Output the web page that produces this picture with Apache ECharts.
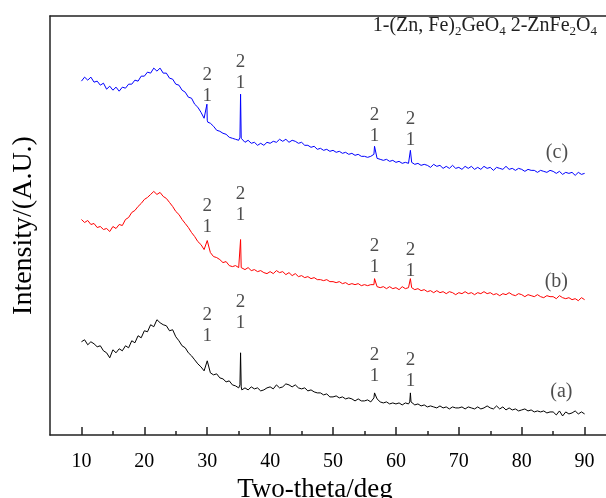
<!DOCTYPE html>
<html>
<head>
<meta charset="utf-8">
<script src="https://cdn.jsdelivr.net/npm/echarts@6/dist/echarts.min.js"></script>
<style>
  html, body { margin: 0; padding: 0; background: #fff; }
  #chart { width: 606px; height: 498px; }
</style>
</head>
<body>
<div id="chart"></div>
<script>
// scan starts at 10 deg, one reading every 0.5 deg up to 90 deg
const scanStart = 10;
const scanStep = 0.5;

// (a) black
const curveA = [
  93, 95, 90, 93, 91, 88, 89, 84, 82, 77,
  85, 82, 86, 84, 89, 87, 94, 92, 99, 97,
  104, 103, 110, 108, 115, 112, 110, 109, 104, 105,
  98, 94, 89, 87, 82, 79, 75, 71, 68, 64,
  74, 62, 60, 61, 57, 56, 53, 54, 50, 49,
  47, 45, 47, 45, 48, 46, 47, 44, 45, 47,
  48, 46, 50, 47, 48, 51, 50, 48, 50, 47,
  46, 47, 44, 45, 43, 42, 42, 40, 41, 38,
  38, 39, 37, 38, 36, 37, 36, 34, 36, 34,
  34, 35, 33, 37, 36, 33, 32, 33, 31, 32,
  31, 32, 30, 32, 31, 33, 30, 31, 29, 30,
  28, 29, 28, 27, 29, 27, 28, 26, 28, 27,
  27, 28, 26, 28, 27, 26, 28, 26, 27, 29,
  27, 26, 29, 26, 28, 25, 27, 25, 26, 24,
  25, 26, 24, 25, 23, 24, 23, 24, 22, 23,
  23, 20, 24, 19, 23, 21, 22, 24, 21, 23,
  21
];
// (b) red
const curveB = [
  215, 212, 214, 210, 211, 207, 208, 205, 206, 203,
  208, 206, 210, 209, 215, 217, 222, 224, 228, 231,
  235, 237, 240, 243, 240, 242, 238, 236, 232, 228,
  223, 220, 215, 211, 207, 202, 198, 193, 190, 185,
  194, 182, 178, 177, 175, 172, 173, 169, 168, 169,
  167, 166, 165, 167, 164, 165, 163, 164, 162, 161,
  163, 161, 164, 162, 163, 160, 162, 159, 161, 158,
  159, 157, 158, 156, 157, 155, 155, 154, 155, 153,
  153, 152, 153, 151, 152, 150, 151, 150, 151, 149,
  150, 149, 150, 150, 148, 147, 148, 146, 148, 146,
  147, 145, 148, 146, 147, 147, 145, 146, 144, 145,
  143, 144, 142, 144, 142, 143, 141, 143, 142, 140,
  142, 141, 143, 141, 142, 140, 142, 141, 143, 141,
  142, 140, 141, 139, 141, 140, 142, 140, 139, 141,
  140, 138, 140, 139, 138, 140, 138, 137, 139, 138,
  138, 136, 139, 137, 136, 137, 135, 136, 134, 137,
  135
];
// (c) blue
const curveC = [
  353, 357, 354, 357, 352, 353, 349, 351, 345, 348,
  344, 347, 343, 347, 346, 350, 350, 354, 353, 358,
  358, 362, 361, 366, 363, 366, 361, 361, 356, 355,
  350, 349, 344, 342, 337, 336, 330, 327, 322, 316,
  314, 311, 308, 304, 303, 301, 300, 297, 296, 295,
  294, 297, 292, 294, 291, 292, 289, 291, 289, 292,
  291, 293, 292, 295, 293, 295, 292, 294, 293, 291,
  292, 289, 289, 287, 288, 285, 286, 284, 285, 283,
  284, 282, 283, 281, 282, 280, 281, 279, 280, 278,
  278, 277, 278, 280, 276, 275, 274, 275, 273, 274,
  272, 273, 271, 272, 271, 272, 270, 271, 269, 270,
  269, 267, 270, 268, 269, 266, 268, 266, 269, 266,
  267, 265, 268, 266, 268, 265, 267, 265, 268, 266,
  267, 264, 267, 266, 265, 268, 265, 266, 264, 266,
  265, 263, 265, 264, 264, 262, 264, 263, 262, 264,
  263, 261, 263, 260, 262, 261, 262, 259, 262, 260,
  261
];

// narrow reflections between the 0.5 deg readings [2theta, intensity]
const peaksA = [[35.2, 50], [35.3, 82], [35.4, 48], [56.6, 42], [62.2, 33], [62.3, 42], [62.4, 33]];
const peaksB = [[35.2, 168], [35.3, 195], [35.4, 167], [56.6, 156], [62.3, 156]];
const peaksC = [[29.8, 316], [29.95, 330], [30.1, 312], [35.2, 297], [35.3, 340], [35.4, 296], [56.6, 288], [62.3, 284]];

// "2 over 1" phase marks above the peaks
const markX = [30, 35.3, 56.6, 62.3];
const markA = [109, 122, 69, 64];
const markB = [218, 230, 178, 174];
const markC = [349, 362, 309, 305];

// sample names
const sampleNames = ['(a)', '(b)', '(c)'];
const sampleX = [86.3, 85.5, 85.6];
const sampleY = [43, 153, 282];

const majorTicks = [10, 20, 30, 40, 50, 60, 70, 80, 90];
const minorTicks = [15, 25, 35, 45, 55, 65, 75, 85];

const serif = '"Liberation Serif", "DejaVu Serif", serif';
const ink = '#222';

function pattern(values, peaks) {
  const pts = values.map((v, i) => [scanStart + i * scanStep, v]);
  return pts.concat(peaks).sort((p, q) => p[0] - q[0]);
}

function lineSeries(name, values, peaks, color) {
  return {
    name: name, type: 'line', data: pattern(values, peaks),
    showSymbol: false, symbol: 'none', silent: true,
    lineStyle: { color: color, width: 1 }
  };
}

function markSeries(heights) {
  return {
    type: 'scatter', symbolSize: 0, silent: true,
    data: markX.map((x, i) => [x, heights[i]]),
    label: {
      show: true, position: 'inside', formatter: '2\n1',
      fontFamily: serif, fontSize: 19, lineHeight: 21, color: ink
    }
  };
}

const chart = echarts.init(document.getElementById('chart'));
chart.setOption({
  animation: false,
  backgroundColor: '#fff',
  grid: { left: 50, right: 0, top: 16, bottom: 63, outerBoundsMode: 'none' },
  xAxis: [{
    type: 'value', min: 5, max: 93.4,
    name: 'Two-theta/deg', nameLocation: 'middle', nameGap: 29,
    nameTextStyle: { fontFamily: serif, fontSize: 27, color: '#000', padding: [0, 26, 0, 0] },
    axisLine: { show: true, lineStyle: { color: ink, width: 1.5 } },
    axisTick: { show: true, inside: true, length: 8, customValues: majorTicks, lineStyle: { color: ink, width: 1.5 } },
    axisLabel: { customValues: majorTicks, fontFamily: serif, fontSize: 20, color: '#000', margin: 17 },
    splitLine: { show: false }
  }, {
    type: 'value', min: 5, max: 93.4, position: 'bottom',
    axisLine: { show: false },
    axisTick: { show: true, inside: true, length: 4, customValues: minorTicks, lineStyle: { color: ink, width: 1.5 } },
    axisLabel: { show: false },
    splitLine: { show: false }
  }, {
    type: 'value', min: 5, max: 93.4, position: 'top',
    axisLine: { show: true, lineStyle: { color: ink, width: 1.5 } },
    axisTick: { show: false }, axisLabel: { show: false }, splitLine: { show: false }
  }],
  yAxis: {
    type: 'value', min: 0, max: 418,
    name: 'Intensity/(A.U.)', nameLocation: 'middle', nameGap: 12, nameRotate: 90,
    nameTextStyle: { fontFamily: serif, fontSize: 28, color: '#000' },
    axisLine: { show: true, lineStyle: { color: ink, width: 1.5 } },
    axisTick: { show: false }, axisLabel: { show: false }, splitLine: { show: false }
  },
  graphic: [{
    type: 'text', right: 9, top: 16,
    style: {
      text: '{t|1-(Zn, Fe)}{s|2}{t|GeO}{s|4}{t| 2-ZnFe}{s|2}{t|O}{s|4}',
      rich: {
        t: { fontFamily: serif, fontSize: 20, lineHeight: 24, verticalAlign: 'middle', fill: ink },
        s: { fontFamily: serif, fontSize: 13, lineHeight: 12, verticalAlign: 'bottom', fill: ink }
      }
    }
  }],
  series: [
    lineSeries('a', curveA, peaksA, '#000000'),
    lineSeries('b', curveB, peaksB, '#ff0000'),
    lineSeries('c', curveC, peaksC, '#0000ff'),
    markSeries(markA),
    markSeries(markB),
    markSeries(markC),
    {
      type: 'scatter', symbolSize: 0, silent: true,
      data: sampleNames.map((n, i) => ({ name: n, value: [sampleX[i], sampleY[i]] })),
      label: { show: true, position: 'inside', formatter: p => p.name, fontFamily: serif, fontSize: 20, color: ink }
    }
  ]
});
</script>
</body>
</html>
